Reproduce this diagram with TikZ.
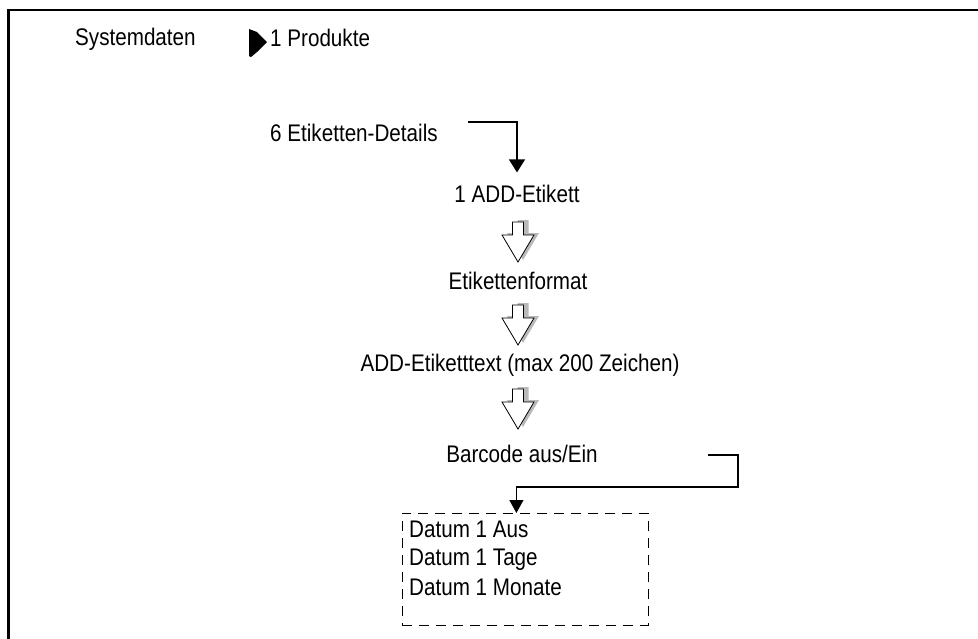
\documentclass[tikz,border=0pt]{standalone}
\usepackage{fontspec}
\setmainfont[FakeStretch=0.86]{Liberation Sans}
\usetikzlibrary{arrows.meta}
\begin{document}
\begin{tikzpicture}[x=1pt,y=-1pt,
  txt/.style={inner sep=0pt, font=\fontsize{24}{28}\selectfont},
  conn/.style={line width=1.2pt},
  tipA/.style={-{Triangle[length=13pt,width=16pt]}},
  tipB/.style={-{Triangle[length=13pt,width=14pt]}},
  dbox/.style={draw, line width=0.8pt, dash pattern=on 10pt off 7pt, inner sep=0pt, minimum width=246pt, minimum height=112pt, anchor=north west},
  flowarrow/.pic={
    \fill[gray!55, shift={(5,-2)}] (-5.5,0) -- (5.5,0) -- (5.5,13) -- (16,13) -- (0,40) -- (-16,13) -- (-5.5,13) -- cycle;
    \filldraw[fill=white, draw=black, line width=0.8pt] (-5.5,0) -- (5.5,0) -- (5.5,13) -- (16,13) -- (0,40) -- (-16,13) -- (-5.5,13) -- cycle;
  }
]
\useasboundingbox (0,0) rectangle (978,638);
\fill[white] (0,0) rectangle (978,638);
% frame
\draw[line width=2.8pt] (980,10) -- (8.7,10) -- (8.7,640);

% header
\node[txt, anchor=base west] (sys) at (75,45) {Systemdaten};
\fill (249,29) -- (257,32) -- (267,42) -- (257,52) -- (251,57) -- (249,56) -- cycle;
\node[txt, anchor=base west] (prod) at (270,46) {1 Produkte};

% main column
\node[txt, anchor=base west] (det) at (270,141) {6 Etiketten-Details};
\node[txt, anchor=base] (add) at (517,202) {1 ADD-Etikett};
\node[txt, anchor=base] (fmt) at (518,289) {Etikettenformat};
\node[txt, anchor=base] (addtxt) at (520,371) {ADD-Etiketttext (max 200 Zeichen)};
\node[txt, anchor=base] (bar) at (522,462) {Barcode aus/Ein};

\pic at (518,222) {flowarrow};
\pic at (518,305) {flowarrow};
\pic at (518,389) {flowarrow};

% dashed box
\node[dbox] (box) at (402,513) {};
\node[txt, anchor=base west] (d1) at (409,537) {Datum 1 Aus};
\node[txt, anchor=base west] (d2) at (409,565) {Datum 1 Tage};
\node[txt, anchor=base west] (d3) at (409,595) {Datum 1 Monate};

% connectors
\coordinate (c1) at (468,122);
\draw[conn, tipA] (c1) -| ([yshift=12pt]add.north);
\coordinate (c2) at (708,455);
\coordinate (c3) at (738,487);
\draw[conn, tipB] (c2) -| (c3) -| ([xshift=-9pt]box.north);
\end{tikzpicture}
\end{document}
